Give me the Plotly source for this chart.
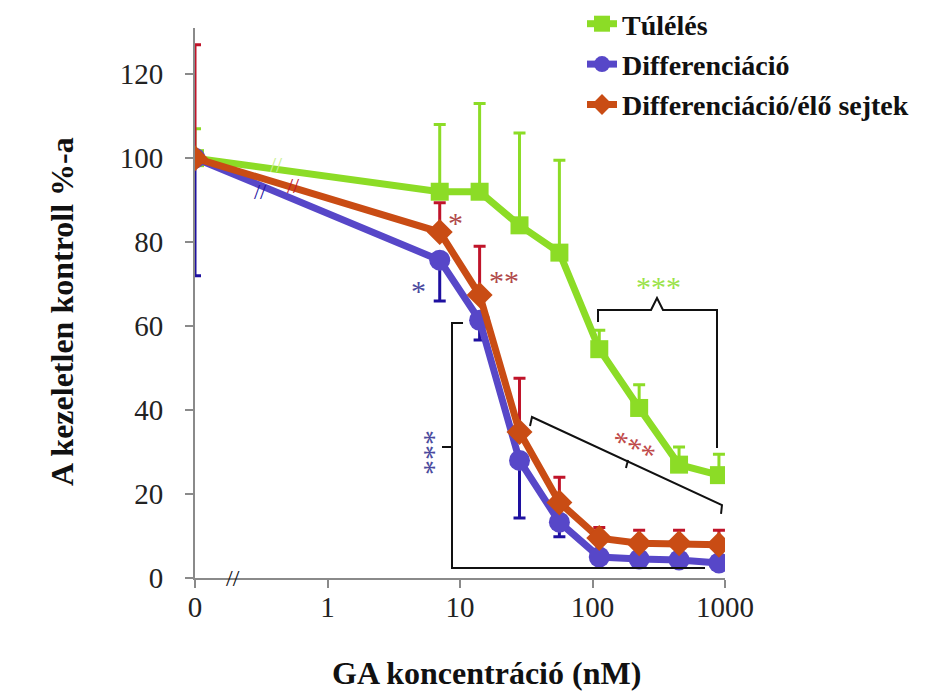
import plotly.graph_objects as go

# ---- data ----
conc = [0, 7.03, 14.06, 28.13, 56.25, 112.5, 225, 450, 900]
tick_vals = [0, 1, 10, 100, 1000]
tick_text = ["0", "1", "10", "100", "1000"]
y_ticks = [0, 20, 40, 60, 80, 100, 120]

tulel = [100, 92, 92, 84, 77.5, 54.5, 40.5, 27, 24.5]
tulel_err_up = [7, 16, 21, 22, 22, 4.5, 5.5, 4.2, 5]

diff = [100, 75.7, 61.4, 28, 13.3, 5, 4.5, 4.3, 3.6]
diff_err_down = [28, 9.7, 4.7, 13.7, 3.5, 1, 1, 1, 1]

rel = [100, 82.4, 67.4, 34.8, 18, 9.5, 8.3, 8.3, 7.9]
rel_err_up = [27, 7, 11.6, 12.8, 6, 2.5, 3.1, 3.1, 3.5]

names = ["Túlélés", "Differenciáció", "Differenciáció/élő sejtek"]

ZERO_POS = 0.1  # position of the "0" concentration on the log axis
def xpos(v):
    return [ZERO_POS if c == 0 else c for c in v]

GREEN = "#8cdc26"
BLUE = "#5747c8"
ORANGE = "#c94c14"
RED_ERR = "#c0142a"
BLUE_ERR = "#1e10a0"
SERIF = "Liberation Serif"

fig = go.Figure()
fig.add_trace(go.Scatter(
    x=xpos(conc), y=tulel, name=names[0], legendgroup="g1",
    mode="lines+markers",
    line=dict(color=GREEN, width=7),
    marker=dict(symbol="square", size=18, color=GREEN),
    error_y=dict(type="data", symmetric=False, array=tulel_err_up,
                 arrayminus=[0] * len(conc), color=GREEN, thickness=3, width=6),
))
fig.add_trace(go.Scatter(
    x=xpos(conc), y=diff, name=names[1], legendgroup="g2",
    mode="lines+markers",
    line=dict(color=BLUE, width=7),
    marker=dict(symbol="circle", size=21, color=BLUE),
    error_y=dict(type="data", symmetric=False, array=[0] * len(conc),
                 arrayminus=diff_err_down, color=BLUE_ERR, thickness=3, width=6),
))
fig.add_trace(go.Scatter(
    x=xpos(conc), y=rel, name=names[2], legendgroup="g3",
    mode="lines+markers",
    line=dict(color=ORANGE, width=7),
    marker=dict(symbol="diamond", size=20, color=ORANGE),
    error_y=dict(type="data", symmetric=False, array=rel_err_up,
                 arrayminus=[0] * len(conc), color=RED_ERR, thickness=3, width=6),
))

# page offset (browser body margin) and plot area in screen pixels
OFF = 8
L, R, T, B = 195, 725, 28, 578
W, H = 951 - 2 * OFF, 699 - 2 * OFF
def px(x, y):
    return (x - L) / (R - L), (B - y) / (B - T)

def path(points):
    pts = [px(x, y) for x, y in points]
    return "M " + " L ".join(f"{a:.4f},{b:.4f}" for a, b in pts)

shapes = []
def add_path(points, color="#111", width=2):
    shapes.append(dict(type="path", xref="paper", yref="paper", path=path(points),
                       line=dict(color=color, width=width)))

# green bracket
add_path([(598, 322), (598, 310), (651, 310), (657, 298), (663, 310), (717, 310), (717, 448)])
# blue bracket
add_path([(463, 323), (452, 323), (452, 568), (705, 568)])
add_path([(452, 447), (442, 447)])
# red bracket
add_path([(530, 426), (532, 417), (722, 505), (721, 514)])
add_path([(628, 460), (626, 468)])

annotations = []
def ann(x, y, text, color, size, angle=0, family=SERIF, bold=False):
    ax, ay = px(x, y)
    annotations.append(dict(x=ax, y=ay, xref="paper", yref="paper", text=text,
                            showarrow=False, textangle=angle,
                            font=dict(family=family, size=size, color=color,
                                      weight="bold" if bold else "normal"),
                            xanchor="center", yanchor="middle"))

# significance stars
ann(658, 286, "***", "#9be34a", 30)
ann(633, 447, "***", "#c04a4a", 30, angle=25)
ann(427, 452, "***", "#4a4a9e", 30, angle=90)
ann(418, 290, "*", "#4a4a9e", 30)
ann(455, 222, "*", "#b04a4a", 30)
ann(504, 280, "**", "#b04a4a", 30)

# axis break marks
ann(233, 578, "//", "#111", 24)
ann(260, 191, "//", BLUE_ERR, 22)
ann(276, 164, "//", "#c8f090", 22)
ann(293, 186, "//", RED_ERR, 22)

# axis titles
ann(486, 673, "GA koncentráció (nM)", "#111", 32, bold=True)
ann(62, 312, "A kezeletlen kontroll %-a", "#111", 32, angle=-90, bold=True)

axis_color = "#8a8a8a"
fig.update_layout(
    width=W, height=H,
    margin=dict(l=L - OFF, r=(W + OFF) - R, t=T - OFF, b=(H + OFF) - B, autoexpand=False),
    paper_bgcolor="white", plot_bgcolor="white",
    shapes=shapes, annotations=annotations,
    legend=dict(x=px(582, 0)[0], y=px(0, -1)[1], xanchor="left", yanchor="top",
                font=dict(family=SERIF, size=28, color="#111", weight="bold"),
                tracegroupgap=1, bgcolor="rgba(0,0,0,0)"),
    xaxis=dict(type="log", range=[-1, 3], tickvals=[ZERO_POS if v == 0 else v for v in tick_vals],
               ticktext=tick_text, showgrid=False, zeroline=False,
               showline=True, linecolor=axis_color, linewidth=2,
               ticks="outside", ticklen=8, tickcolor=axis_color, tickwidth=1.5,
               ticklabelstandoff=-6,
               tickfont=dict(family=SERIF, size=29, color="#222")),
    yaxis=dict(range=[0, 131], tickvals=y_ticks, showgrid=False, zeroline=False,
               showline=True, linecolor=axis_color, linewidth=2,
               ticks="outside", ticklen=8, tickcolor=axis_color, tickwidth=1.5,
               ticklabelstandoff=16,
               tickfont=dict(family=SERIF, size=29, color="#222")),
)

fig.write_html("out.html")
